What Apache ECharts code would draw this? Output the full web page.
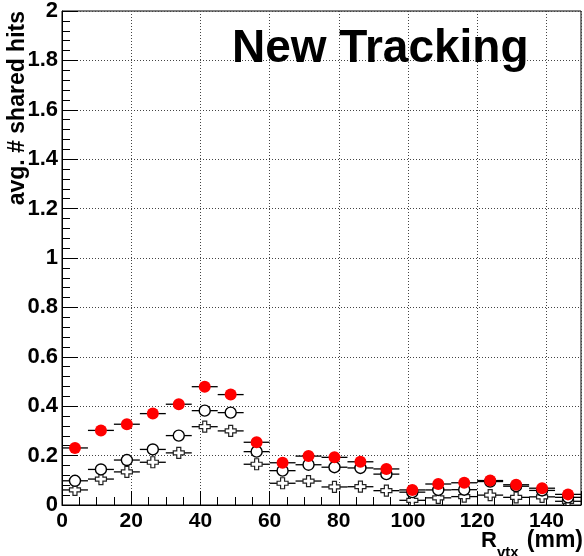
<!DOCTYPE html>
<html>
<head>
<meta charset="utf-8">
<script src="https://cdn.jsdelivr.net/npm/echarts@6/dist/echarts.min.js"></script>
<style>
  html, body { margin: 0; padding: 0; background: #fff; }
  #chart { width: 584px; height: 556px; }
</style>
</head>
<body>
<div id="chart"></div>
<script>
// bin centres (mm), bins are 7.5 mm wide
const rBins = [3.75, 11.25, 18.75, 26.25, 33.75, 41.25, 48.75, 56.25, 63.75, 71.25,
  78.75, 86.25, 93.75, 101.25, 108.75, 116.25, 123.75, 131.25, 138.75, 146.25]
const binHalfWidth = 3.75

// avg. # shared hits per bin
const redFilled = [0.231, 0.302, 0.327, 0.370, 0.408, 0.479, 0.447, 0.254, 0.171, 0.198,
  0.193, 0.175, 0.146, 0.061, 0.085, 0.090, 0.099, 0.082, 0.068, 0.043]
const openCircle = [0.098, 0.144, 0.182, 0.225, 0.281, 0.382, 0.374, 0.216, 0.139, 0.163,
  0.153, 0.150, 0.125, 0.052, 0.061, 0.062, 0.095, 0.076, 0.059, 0.031]
const openCross = [0.061, 0.105, 0.134, 0.173, 0.211, 0.317, 0.300, 0.165, 0.088, 0.097,
  0.073, 0.074, 0.058, 0.019, 0.029, 0.034, 0.040, 0.031, 0.033, 0.015]

const FONT = '"Liberation Sans", Arial, Helvetica, sans-serif'

const toPoints = (vals) => rBins.map((x, i) => [x, vals[i]])

// marker shapes in pixels around the point
const crossPoints = (cx, cy) => {
  const a = 5.5, b = 2
  return [
    [cx - b, cy - a], [cx + b, cy - a], [cx + b, cy - b], [cx + a, cy - b],
    [cx + a, cy + b], [cx + b, cy + b], [cx + b, cy + a], [cx - b, cy + a],
    [cx - b, cy + b], [cx - a, cy + b], [cx - a, cy - b], [cx - b, cy - b]
  ]
}

const makeRender = (kind) => (params, api) => {
  const x = api.value(0)
  const y = api.value(1)
  const p = api.coord([x, y])
  const l = api.coord([x - binHalfWidth, y])
  const r = api.coord([x + binHalfWidth, y])
  const children = [{
    type: 'line',
    shape: { x1: l[0], y1: l[1], x2: r[0], y2: r[1] },
    style: { stroke: '#000', lineWidth: 1.3 }
  }]
  if (kind === 'red') {
    children.push({
      type: 'circle',
      shape: { cx: p[0], cy: p[1], r: 6 },
      style: { fill: '#ff0000' }
    })
  } else if (kind === 'open') {
    children.push({
      type: 'circle',
      shape: { cx: p[0], cy: p[1], r: 5.5 },
      style: { fill: '#fff', stroke: '#000', lineWidth: 1.4 }
    })
  } else {
    children.push({
      type: 'polygon',
      shape: { points: crossPoints(p[0], p[1]) },
      style: { fill: '#fff', stroke: '#222', lineWidth: 1.2 }
    })
  }
  return { type: 'group', children }
}

const chart = echarts.init(document.getElementById('chart'))

const option = {
  backgroundColor: '#fff',
  animation: false,
  grid: {
    left: 62, right: 3, top: 11, bottom: 51,
    show: true, borderColor: '#000', borderWidth: 1, backgroundColor: '#fff'
  },
  xAxis: {
    type: 'value',
    min: 0, max: 150, interval: 20,
    axisLine: { lineStyle: { color: '#000', width: 1 } },
    axisTick: { inside: true, length: 14, lineStyle: { color: '#000' } },
    minorTick: { show: true, splitNumber: 4, length: 8, lineStyle: { color: '#000' } },
    axisLabel: {
      margin: 6, showMaxLabel: false,
      color: '#000', fontFamily: FONT, fontWeight: 'bold', fontSize: 21
    },
    splitLine: { show: true, lineStyle: { color: '#444', type: [1, 2], width: 1 } }
  },
  yAxis: {
    type: 'value',
    min: 0, max: 2, interval: 0.2,
    axisLine: { show: true, lineStyle: { color: '#000', width: 1 } },
    axisTick: { show: true, inside: true, length: 16, lineStyle: { color: '#000' } },
    minorTick: { show: true, splitNumber: 5, length: 8, lineStyle: { color: '#000' } },
    axisLabel: {
      margin: 4,
      color: '#000', fontFamily: FONT, fontWeight: 'bold', fontSize: 22
    },
    splitLine: { show: true, lineStyle: { color: '#444', type: [1, 2], width: 1 } }
  },
  graphic: [
    {
      type: 'text', x: 232, y: 49, z: 10,
      style: {
        text: 'New Tracking', fill: '#000',
        font: 'bold 46px ' + FONT, verticalAlign: 'middle', align: 'left'
      }
    },
    {
      type: 'text', x: 18, y: 11, rotation: Math.PI / 2, z: 10,
      style: {
        text: 'avg. # shared hits', fill: '#000',
        font: 'bold 23px ' + FONT, align: 'right', verticalAlign: 'middle'
      }
    },
    {
      type: 'text', x: 481, y: 541, z: 10,
      style: { text: 'R', fill: '#000', font: 'bold 22px ' + FONT, align: 'left', verticalAlign: 'middle' }
    },
    {
      type: 'text', x: 497, y: 553, z: 10,
      style: { text: 'vtx', fill: '#000', font: 'bold 15px ' + FONT, align: 'left', verticalAlign: 'middle' }
    },
    {
      type: 'text', x: 583, y: 541, z: 10,
      style: { text: '(mm)', fill: '#000', font: 'bold 23px ' + FONT, align: 'right', verticalAlign: 'middle' }
    }
  ],
  series: [
    { type: 'custom', name: 'cross', renderItem: makeRender('cross'), data: toPoints(openCross), clip: true },
    { type: 'custom', name: 'open', renderItem: makeRender('open'), data: toPoints(openCircle), clip: true },
    { type: 'custom', name: 'red', renderItem: makeRender('red'), data: toPoints(redFilled), clip: true }
  ]
}

chart.setOption(option)
</script>
</body>
</html>
